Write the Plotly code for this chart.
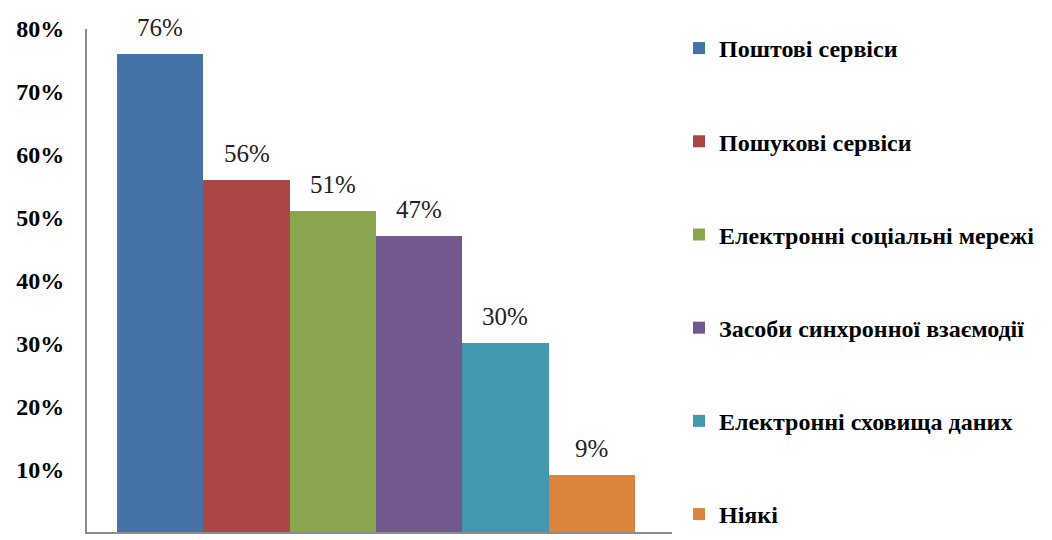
import plotly.graph_objects as go

categories = ["Поштові сервіси", "Пошукові сервіси", "Електронні соціальні мережі",
              "Засоби синхронної взаємодії", "Електронні сховища даних", "Ніякі"]
values = [0.76, 0.56, 0.51, 0.47, 0.30, 0.09]
labels = ["76%", "56%", "51%", "47%", "30%", "9%"]
colors = ["#4572A7", "#AA4643", "#89A54E", "#71588F", "#4198AF", "#DB843D"]
tick_vals = [0, 0.1, 0.2, 0.3, 0.4, 0.5, 0.6, 0.7, 0.8]
tick_text = ["0%", "10%", "20%", "30%", "40%", "50%", "60%", "70%", "80%"]

FONT = "Liberation Serif"

fig = go.Figure()
for i, (name, v, c) in enumerate(zip(categories, values, colors)):
    fig.add_trace(go.Bar(
        x=[i], y=[v], name=name, width=1,
        marker=dict(color=c, line=dict(width=0)),
        legendgroup=f"g{i}",
    ))
    fig.add_annotation(
        x=i, y=v, text=labels[i], showarrow=False,
        yanchor="bottom", yshift=11,
        font=dict(family=FONT, size=25, color="#222222", weight="normal"),
    )

fig.update_layout(
    width=1044, height=532,
    margin=dict(l=76, r=380, t=19, b=8),
    plot_bgcolor="white", paper_bgcolor="white",
    barmode="overlay", bargap=0,
    showlegend=True,
    font=dict(family=FONT),
    legend=dict(
        x=1.012, xanchor="left", xref="paper", y=1.006, yanchor="top",
        font=dict(family=FONT, size=24, color="black", weight="bold"),
        tracegroupgap=59,
        traceorder="grouped",
        itemwidth=30,
        maxheight=700,
        bgcolor="rgba(0,0,0,0)",
    ),
    xaxis=dict(range=[-0.85, 5.93], showticklabels=False, showgrid=False,
               zeroline=False, showline=True, linecolor="#8c8c8c", linewidth=2,
               ticks=""),
    yaxis=dict(range=[0, 0.8], tickvals=tick_vals, ticktext=tick_text,
               showgrid=False, zeroline=False, showline=True,
               linecolor="#8c8c8c", linewidth=2, ticks="",
               ticklabelstandoff=16,
               tickfont=dict(family=FONT, size=24, color="black", weight="bold")),
)

fig.write_html("out.html")
